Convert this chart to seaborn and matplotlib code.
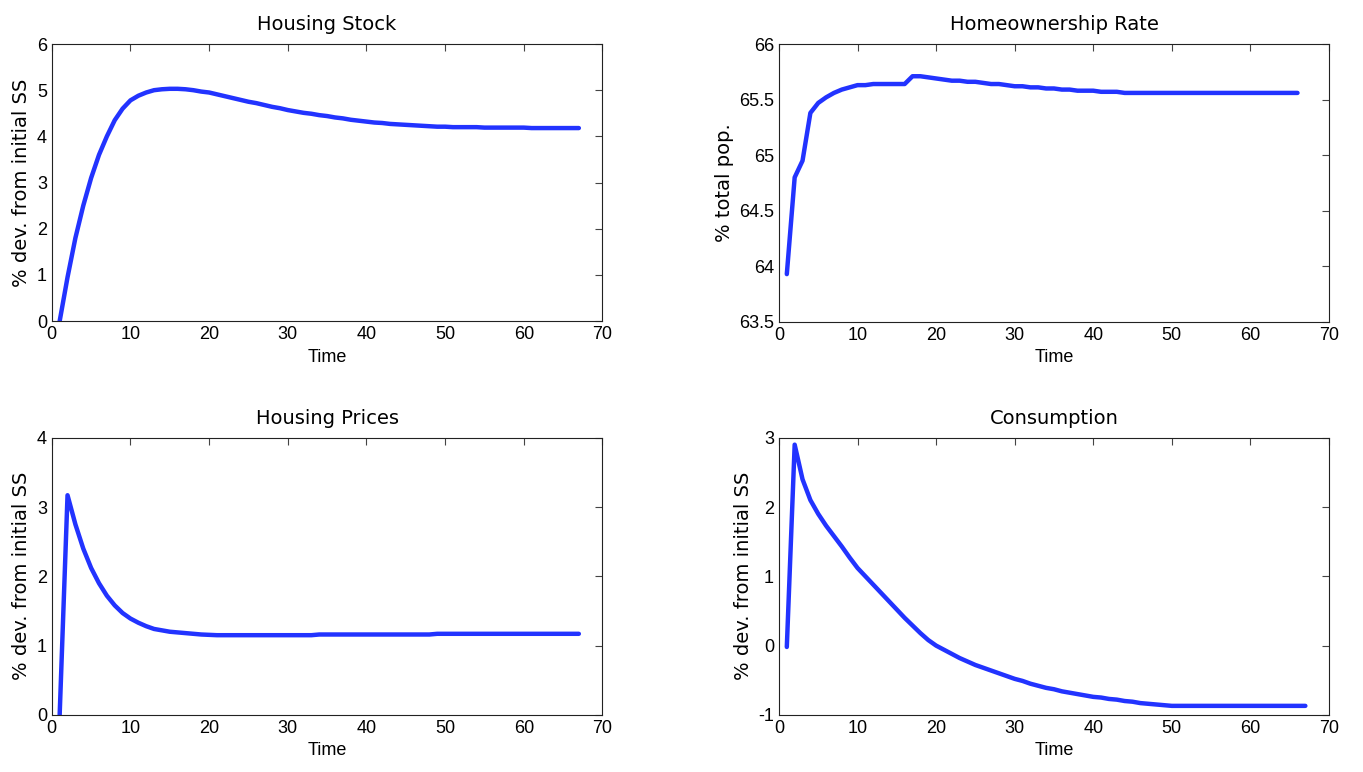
import numpy as np
import pandas as pd
import seaborn as sns
import matplotlib.pyplot as plt

# time axis
time = list(range(1, 68))
time_own = list(range(1, 67))

housing_stock = [0.0, 0.95, 1.8, 2.5, 3.1, 3.6, 4.0, 4.35, 4.6, 4.78,
                 4.88, 4.95, 5.0, 5.02, 5.03, 5.03, 5.02, 5.0, 4.97, 4.95,
                 4.91, 4.87, 4.83, 4.79, 4.75, 4.72, 4.68, 4.64, 4.61, 4.57,
                 4.54, 4.51, 4.49, 4.46, 4.44, 4.41, 4.39, 4.36, 4.34, 4.32,
                 4.30, 4.29, 4.27, 4.26, 4.25, 4.24, 4.23, 4.22, 4.21, 4.21,
                 4.20, 4.20, 4.20, 4.20, 4.19, 4.19, 4.19, 4.19, 4.19, 4.19,
                 4.18, 4.18, 4.18, 4.18, 4.18, 4.18, 4.18]

homeownership = [63.93, 64.8, 64.95, 65.38, 65.47, 65.52, 65.56, 65.59, 65.61, 65.63,
                 65.63, 65.64, 65.64, 65.64, 65.64, 65.64, 65.71, 65.71, 65.70, 65.69,
                 65.68, 65.67, 65.67, 65.66, 65.66, 65.65, 65.64, 65.64, 65.63, 65.62,
                 65.62, 65.61, 65.61, 65.60, 65.60, 65.59, 65.59, 65.58, 65.58, 65.58,
                 65.57, 65.57, 65.57, 65.56, 65.56, 65.56, 65.56, 65.56, 65.56, 65.56,
                 65.56, 65.56, 65.56, 65.56, 65.56, 65.56, 65.56, 65.56, 65.56, 65.56,
                 65.56, 65.56, 65.56, 65.56, 65.56, 65.56]

housing_prices = [0.0, 3.17, 2.75, 2.4, 2.12, 1.9, 1.72, 1.58, 1.47, 1.39,
                  1.33, 1.28, 1.24, 1.22, 1.2, 1.19, 1.18, 1.17, 1.16, 1.155,
                  1.15, 1.15, 1.15, 1.15, 1.15, 1.15, 1.15, 1.15, 1.15, 1.15,
                  1.15, 1.15, 1.15, 1.16, 1.16, 1.16, 1.16, 1.16, 1.16, 1.16,
                  1.16, 1.16, 1.16, 1.16, 1.16, 1.16, 1.16, 1.16, 1.17, 1.17,
                  1.17, 1.17, 1.17, 1.17, 1.17, 1.17, 1.17, 1.17, 1.17, 1.17,
                  1.17, 1.17, 1.17, 1.17, 1.17, 1.17, 1.17]

consumption = [-0.02, 2.9, 2.4, 2.1, 1.9, 1.73, 1.58, 1.43, 1.27, 1.12,
               1.0, 0.88, 0.76, 0.64, 0.52, 0.4, 0.29, 0.18, 0.08, 0.0,
               -0.06, -0.12, -0.18, -0.23, -0.28, -0.32, -0.36, -0.40, -0.44, -0.48,
               -0.51, -0.55, -0.58, -0.61, -0.63, -0.66, -0.68, -0.70, -0.72, -0.74,
               -0.75, -0.77, -0.78, -0.80, -0.81, -0.83, -0.84, -0.85, -0.86, -0.87,
               -0.87, -0.87, -0.87, -0.87, -0.87, -0.87, -0.87, -0.87, -0.87, -0.87,
               -0.87, -0.87, -0.87, -0.87, -0.87, -0.87, -0.87]

panels = [
    ('Housing Stock', time, housing_stock, '% dev. from initial SS', (0, 6), [0, 1, 2, 3, 4, 5, 6]),
    ('Homeownership Rate', time_own, homeownership, '% total pop.', (63.5, 66), [63.5, 64, 64.5, 65, 65.5, 66]),
    ('Housing Prices', time, housing_prices, '% dev. from initial SS', (0, 4), [0, 1, 2, 3, 4]),
    ('Consumption', time, consumption, '% dev. from initial SS', (-1, 3), [-1, 0, 1, 2, 3]),
]

sns.set_style('white', {'text.color': 'black', 'axes.labelcolor': 'black',
                        'xtick.color': 'black', 'ytick.color': 'black'})
plt.rcParams['font.family'] = ['Liberation Sans', 'DejaVu Sans']

fig = plt.figure(figsize=(13.63, 7.72), dpi=100)
boxes = [[0.038, 0.584, 0.404, 0.359],
         [0.5715, 0.583, 0.4035, 0.360],
         [0.038, 0.074, 0.404, 0.359],
         [0.5715, 0.074, 0.4035, 0.359]]

for box, (title, t, vals, ylab, ylim, yticks) in zip(boxes, panels):
    ax = fig.add_axes(box)
    df = pd.DataFrame({'Time': t, 'value': vals})
    sns.lineplot(data=df, x='Time', y='value', ax=ax, color='#2233ff', linewidth=3.2)
    ax.set_xlim(0, 70)
    ax.set_ylim(*ylim)
    ax.set_xticks([0, 10, 20, 30, 40, 50, 60, 70])
    ax.set_yticks(yticks)
    ax.set_yticklabels([('%g' % v) for v in yticks])
    ax.set_title(title, fontsize=14, pad=10, family=['DejaVu Sans'], color='black')
    ax.set_xlabel('Time', fontsize=13, labelpad=4, color='black')
    ax.set_ylabel(ylab, fontsize=14, labelpad=4, color='black', family=['DejaVu Sans'])
    ax.tick_params(direction='in', top=True, right=True, length=5, width=0.8,
                   labelsize=13, color='#444444', labelcolor='black')
    for s in ax.spines.values():
        s.set_color('#222222')
        s.set_linewidth(0.8)

fig.savefig('out.png', dpi=100)
